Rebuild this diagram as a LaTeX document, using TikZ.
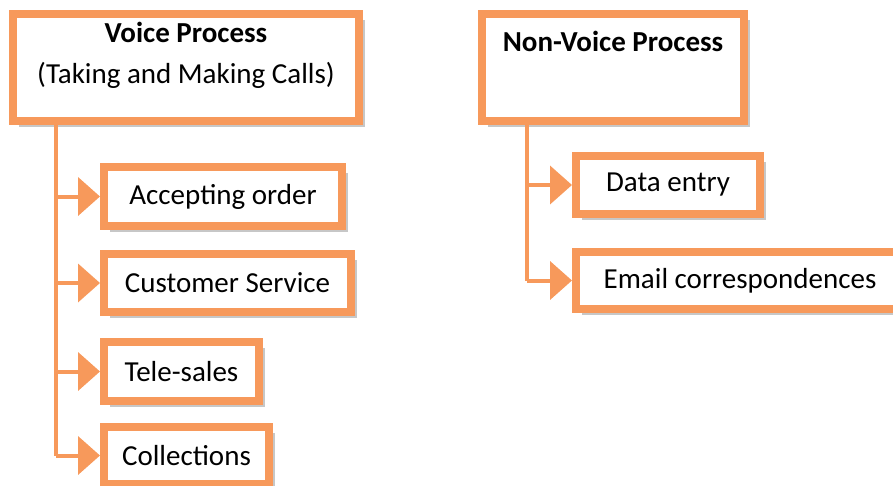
\documentclass[tikz,border=0pt]{standalone}
\usepackage{fontspec}
\setmainfont{Carlito}
\usetikzlibrary{arrows.meta,shadows}
\definecolor{procorange}{RGB}{247,153,91}

\begin{document}
\begin{tikzpicture}[
x=1pt, y=-1pt,
every node/.style={
font=\fontsize{29}{41}\selectfont,
align=center,
inner sep=0pt
},
box/.style={
draw=procorange,
line width=8pt,
fill=white,
drop shadow={shadow xshift=6pt, shadow yshift=-6pt, opacity=.22, fill=black}
},
link/.style={
draw=procorange,
line width=4pt,
-{Triangle[length=22pt,width=38pt]}
}
]
\useasboundingbox (0,0) rectangle (893,485);

% voice process
\node[box, minimum width=346, minimum height=107] (voice) at (186,67.5)
{\textbf{Voice Process}\\(Taking and Making Calls)\\[-24pt]\strut};

\node[box, minimum width=238, minimum height=59] (acc) at (223,196.5) {Accepting order};
\node[box, minimum width=247, minimum height=58] (cust) at (227.5,283) {Customer Service};
\node[box, minimum width=155, minimum height=59] (tele) at (181.5,371.5) {Tele-sales};
\node[box, minimum width=165, minimum height=57] (coll) at (186.5,455.5) {Collections};

% non-voice process
\node[box, minimum width=262, minimum height=107] (nonv) at (613,67.5)
{\textbf{Non-Voice Process}\\ \strut};

\node[box, minimum width=184, minimum height=58] (data) at (668,185) {Data entry};
\node[box, minimum width=328, minimum height=57] (email) at (740,280.5) {Email correspondences};

\coordinate (vtrunk) at (56,0);
\coordinate (ntrunk) at (527,0);

\draw[procorange, line width=4pt] (vtrunk |- voice.south) -- (vtrunk |- coll.west);
\draw[link] (vtrunk |- acc.west) -- (acc.west);
\draw[link] (vtrunk |- cust.west) -- (cust.west);
\draw[link] (vtrunk |- tele.west) -- (tele.west);
\draw[link] (vtrunk |- coll.west) -- (coll.west);

\draw[procorange, line width=4pt] (ntrunk |- nonv.south) -- (ntrunk |- email.west);
\draw[link] (ntrunk |- data.west) -- (data.west);
\draw[link] (ntrunk |- email.west) -- (email.west);

\end{tikzpicture}
\end{document}
